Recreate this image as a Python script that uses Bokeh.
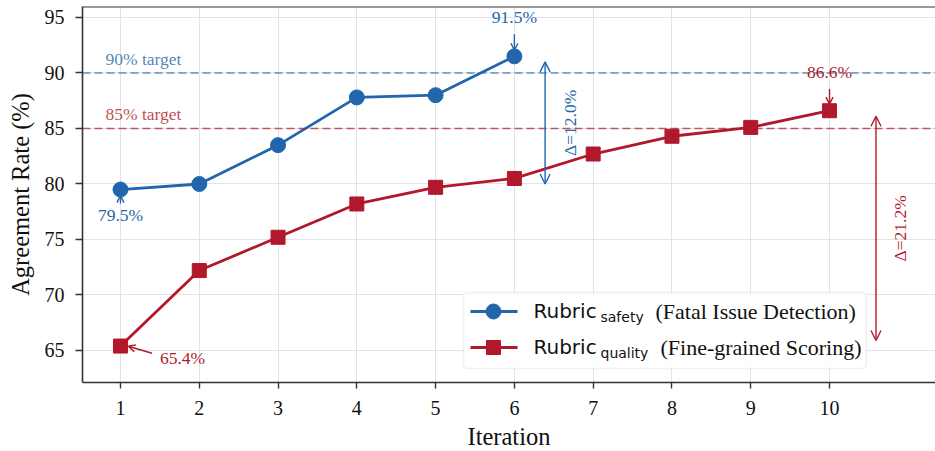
import math
from bokeh.plotting import figure
from bokeh.models import Range1d, FixedTicker, Span, Label, Arrow, OpenHead, BoxAnnotation
from bokeh.embed import file_html
from bokeh.resources import INLINE

# ---------------- data ----------------
iterations_safety = [1, 2, 3, 4, 5, 6]
safety_rate = [79.5, 80.0, 83.5, 87.8, 88.0, 91.5]
iterations_quality = [1, 2, 3, 4, 5, 6, 7, 8, 9, 10]
quality_rate = [65.4, 72.2, 75.2, 78.2, 79.7, 80.5, 82.7, 84.3, 85.1, 86.6]
x_ticks = [1, 2, 3, 4, 5, 6, 7, 8, 9, 10]
y_ticks = [65, 70, 75, 80, 85, 90, 95]
safety_target = 90
quality_target = 85

BLUE = "#2166ac"
RED = "#b2182b"
SERIF = "Liberation Serif"
SANS = "DejaVu Sans"

# ---------------- geometry ----------------
X0, X1 = 0.5177, 11.3455
Y0, Y1 = 62.117, 95.99
PAGE = 0
FL, FW, FT, FH = 82, 853, 6, 376

def px_x(px):
    return X0 + (px - PAGE - FL) / FW * (X1 - X0)

def px_y(py):
    return Y1 - (py - PAGE - FT) / FH * (Y1 - Y0)

p = figure(frame_width=FW, frame_height=FH, x_range=Range1d(X0, X1), y_range=Range1d(Y0, Y1),
           output_backend="svg", toolbar_location=None,
           min_border_left=FL, min_border_right=0, min_border_top=FT, min_border_bottom=0)
p.outline_line_color = None
p.background_fill_color = "white"
p.border_fill_color = "white"

for ax in (p.xaxis, p.yaxis):
    ax.axis_line_color = "#333333"
    ax.axis_line_width = 1.6
    ax.major_tick_line_color = "#333333"
    ax.major_tick_line_width = 1.4
    ax.major_tick_out = 6
    ax.major_tick_in = 0
    ax.minor_tick_line_color = None
    ax.major_label_text_font = SERIF
    ax.major_label_text_font_size = "20px"
    ax.major_label_text_color = "#111111"
    ax.axis_label_text_font = SERIF
    ax.axis_label_text_font_size = "24.5px"
    ax.axis_label_text_font_style = "normal"
    ax.axis_label_text_color = "#111111"

p.yaxis.major_tick_out = 7
p.xaxis.ticker = FixedTicker(ticks=x_ticks)
p.yaxis.ticker = FixedTicker(ticks=y_ticks)
p.xaxis.axis_label = "Iteration"
p.yaxis.axis_label = "Agreement Rate (%)"
p.xaxis.major_label_standoff = 12
p.xaxis.axis_label_standoff = 5
p.yaxis.major_label_standoff = 11
p.yaxis.axis_label_standoff = 8

p.xgrid.ticker = FixedTicker(ticks=x_ticks)
p.ygrid.ticker = FixedTicker(ticks=y_ticks)
p.grid.grid_line_color = "#e3e3e3"
p.grid.grid_line_width = 1

# top border
p.add_layout(Span(location=Y1, dimension="width", line_color="#333333", line_width=2))

# target lines
p.add_layout(Span(location=safety_target, dimension="width", line_color=BLUE, line_alpha=0.7,
                  line_width=1.5, line_dash="8 4"))
p.add_layout(Span(location=quality_target, dimension="width", line_color=RED, line_alpha=0.7,
                  line_width=1.5, line_dash="8 4"))
p.add_layout(Label(x=px_x(105), y=safety_target + 1.3, text=f"{safety_target}% target",
                   text_font=SERIF, text_font_size="17.5px", text_color=BLUE, text_alpha=0.8,
                   text_baseline="middle"))
p.add_layout(Label(x=px_x(105), y=quality_target + 1.35, text=f"{quality_target}% target",
                   text_font=SERIF, text_font_size="17.5px", text_color=RED, text_alpha=0.8,
                   text_baseline="middle"))

# series
p.line(iterations_safety, safety_rate, line_color=BLUE, line_width=2.8)
p.scatter(iterations_safety, safety_rate, marker="circle", size=15, fill_color=BLUE, line_color=BLUE)
p.line(iterations_quality, quality_rate, line_color=RED, line_width=2.8)
p.scatter(iterations_quality, quality_rate, marker="square", size=14, fill_color=RED, line_color=RED)

def small_arrow(x0, y0, x1, y1, color):
    p.add_layout(Arrow(x_start=x0, y_start=y0, x_end=x1, y_end=y1, line_color=color, line_width=1.4,
                       end=OpenHead(size=7, line_color=color, line_width=1.4)))

def val_label(x, y, txt, color, align="center"):
    p.add_layout(Label(x=x, y=y, text=txt, text_font=SERIF, text_font_size="17.5px",
                       text_color=color, text_align=align, text_baseline="middle"))

# first / last annotations
xs, ys = iterations_safety[0], safety_rate[0]
val_label(xs, ys - 2.3, f"{ys:.1f}%", BLUE)
small_arrow(xs, ys - 1.25, xs, ys - 0.55, BLUE)

xs, ys = iterations_safety[-1], safety_rate[-1]
val_label(xs, ys + 3.5, f"{ys:.1f}%", BLUE)
small_arrow(xs, ys + 2.0, xs, ys + 0.55, BLUE)

xq, yq = iterations_quality[0], quality_rate[0]
val_label(xq + 0.5, yq - 1.1, f"{yq:.1f}%", RED, align="left")
small_arrow(xq + 0.4, yq - 0.65, xq + 0.1, yq - 0.02, RED)

xq, yq = iterations_quality[-1], quality_rate[-1]
val_label(xq, yq + 3.5, f"{yq:.1f}%", RED)
small_arrow(xq, yq + 1.95, xq, yq + 0.6, RED)

# delta arrows
def delta_arrow(x, top, bottom, color, tx):
    pad = 0.5
    p.add_layout(Arrow(x_start=x, y_start=bottom + pad, x_end=x, y_end=top - pad,
                       line_color=color, line_width=1.4,
                       start=OpenHead(size=10, line_color=color, line_width=1.4),
                       end=OpenHead(size=10, line_color=color, line_width=1.4)))
    p.add_layout(Label(x=tx, y=(top + bottom) / 2, text=f"\u0394={top - bottom:.1f}%",
                       text_font=SERIF, text_font_size="17.5px", text_color=color,
                       text_align="center", text_baseline="middle", angle=math.pi / 2))

delta_arrow(6.39, max(safety_rate), safety_rate[0], BLUE, 6.7)
delta_arrow(10.59, quality_rate[-1], quality_rate[0], RED, 10.9)

# ---------------- manual legend ----------------
p.add_layout(BoxAnnotation(left=px_x(463), right=px_x(866), top=px_y(292), bottom=px_y(368),
                           fill_color="white", fill_alpha=0.92, line_color="#cccccc",
                           line_width=1.5, border_radius=4))

legend_rows = [
    (BLUE, "circle", 15, "safety", "(Fatal Issue Detection)", 311, 655),
    (RED, "square", 14, "quality", "(Fine-grained Scoring)", 347, 660),
]
for color, marker, size, sub, desc, cy, dx in legend_rows:
    yy = px_y(cy)
    p.line([px_x(470), px_x(517)], [yy, yy], line_color=color, line_width=2.8, level="overlay")
    p.scatter([px_x(493)], [yy], marker=marker, size=size, fill_color=color, line_color=color,
              level="overlay")
    p.add_layout(Label(x=px_x(533), y=px_y(cy - 1), text="Rubric", text_font=SANS,
                       text_font_size="20px", text_color="#111111", text_baseline="middle"))
    p.add_layout(Label(x=px_x(600), y=px_y(cy + 5), text=sub, text_font=SANS,
                       text_font_size="14px", text_color="#111111", text_baseline="middle"))
    p.add_layout(Label(x=px_x(dx), y=px_y(cy), text=desc, text_font=SERIF,
                       text_font_size="22px", text_color="#111111", text_baseline="middle"))

open("out.html", "w").write(file_html(p, INLINE))
